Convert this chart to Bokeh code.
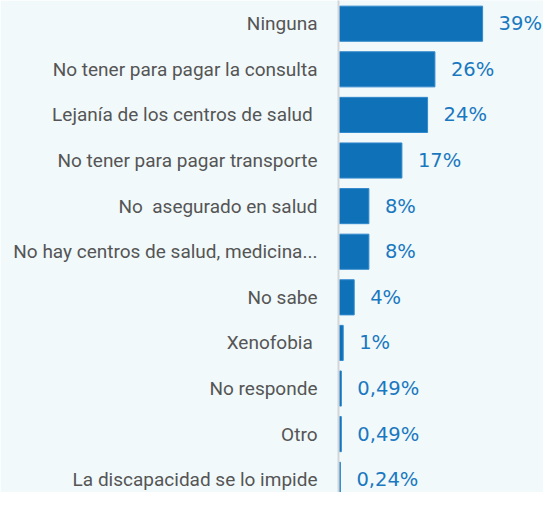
from bokeh.plotting import figure
from bokeh.models import Range1d, FixedTicker, ColumnDataSource
from bokeh.core.properties import value
from bokeh.embed import file_html
from bokeh.resources import INLINE

categories = [
    "Ninguna",
    "No tener para pagar la consulta",
    "Lejanía de los centros de salud\u00a0",
    "No tener para pagar transporte",
    "No\u00a0 asegurado en salud",
    "No hay centros de salud, medicina...",
    "No sabe",
    "Xenofobia\u00a0",
    "No responde",
    "Otro",
    "La discapacidad se lo impide",
]
values = [39, 26, 24, 17, 8, 8, 4, 1, 0.49, 0.49, 0.24]
value_labels = ["39%", "26%", "24%", "17%", "8%", "8%", "4%", "1%", "0,49%", "0,49%", "0,24%"]

idx = list(range(len(categories)))
src = ColumnDataSource(dict(y=idx, v=values, lab=value_labels))

BG = "#f1f9fb"
p = figure(width=543, height=492, output_backend="svg", toolbar_location=None,
           x_range=Range1d(-0.28, 55.6), y_range=Range1d(10.28, -0.509),
           min_border_left=338, min_border_right=0, min_border_top=0, min_border_bottom=0,
           background_fill_color=BG, border_fill_color=BG)
p.outline_line_color = None
p.grid.visible = False
p.xaxis.visible = False

p.hbar(y="y", right="v", left=0, height=0.77, source=src,
       fill_color="#0f71b7", line_color="#3289cc", line_width=1)
p.text(x="v", y="y", text="lab", source=src, x_offset=16,
       text_baseline="middle", text_align="left",
       text_font=value("DejaVu Sans"), text_font_size="19.5px", text_color="#1a78c0")

ax = p.yaxis[0]
ax.ticker = FixedTicker(ticks=idx)
ax.major_label_overrides = {i: c for i, c in zip(idx, categories)}
ax.major_tick_line_color = None
ax.minor_tick_line_color = None
ax.major_tick_out = 0
ax.major_label_standoff = 21
ax.axis_line_color = "#d3d6d8"
ax.axis_line_width = 2
ax.major_label_text_font = "Roboto"
ax.major_label_text_font_size = "19px"
ax.major_label_text_color = "#555555"

open("out.html", "w").write(file_html(p, INLINE))
